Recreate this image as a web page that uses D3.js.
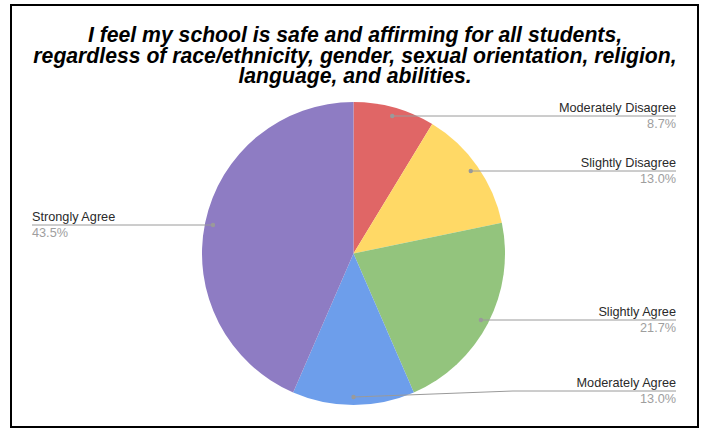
<!DOCTYPE html>
<html>
<head>
<meta charset="utf-8">
<script src="https://cdn.jsdelivr.net/npm/d3@7"></script>
<style>
  html, body { margin: 0; padding: 0; background: #fff; }
  svg { display: block; }
</style>
</head>
<body>
<svg id="chart" width="706" height="429"></svg>
<script>
// Survey responses, in slice order (clockwise from 12 o'clock)
const categories = ["Moderately Disagree", "Slightly Disagree", "Slightly Agree", "Moderately Agree", "Strongly Agree"];
const counts = [2, 3, 5, 3, 10];
const colors = ["#e06666", "#ffd966", "#93c47d", "#6d9eeb", "#8e7cc3"];
const titleLines = [
  "I feel my school is safe and affirming for all students,",
  "regardless of race/ethnicity, gender, sexual orientation, religion,",
  "language, and abilities."
];
// Where each label sits: side of the chart and the y of its leader line
const labelSide = ["right", "right", "right", "right", "left"];
const labelLineY = [116, 171, 320, 391, 225];

const svg = d3.select("#chart");

// Frame
svg.append("rect")
  .attr("x", 11).attr("y", 5)
  .attr("width", 687).attr("height", 422)
  .attr("fill", "#fff")
  .attr("stroke", "#000")
  .attr("stroke-width", 2);

// Title
const title = svg.append("text")
  .attr("text-anchor", "middle")
  .attr("font-family", "'Liberation Sans', Arial, sans-serif")
  .attr("font-size", 21.2)
  .attr("font-weight", "bold")
  .attr("font-style", "italic")
  .attr("fill", "#000");
titleLines.forEach((t, i) => {
  title.append("tspan")
    .attr("x", 355)
    .attr("y", 42 + i * 20.7)
    .text(t);
});

// Pie
const cx = 353.5, cy = 253.5, R = 151.5;
const total = d3.sum(counts);
const pie = d3.pie().sort(null).value(d => d)(counts);
const arc = d3.arc().innerRadius(0).outerRadius(R);
const g = svg.append("g").attr("transform", `translate(${cx},${cy})`);

g.selectAll("path")
  .data(pie)
  .join("path")
  .attr("d", arc)
  .attr("fill", (d, i) => colors[i]);

// Leader lines and labels
const dotR = 143.5;
const lineLeft = 32, lineRight = 676;
const fmt = d3.format(".1f");
const labelFont = "'Liberation Sans', Arial, sans-serif";

pie.forEach((d, i) => {
  const a = (d.startAngle + d.endAngle) / 2;
  const px = cx + Math.sin(a) * dotR;
  const py = cy - Math.cos(a) * dotR;
  const ly = labelLineY[i];
  let pts;
  if (labelSide[i] === "right") {
    if (Math.abs(py - ly) > 2) {
      pts = [[px, py], [513, ly], [lineRight, ly]];
    } else {
      pts = [[px, ly], [lineRight, ly]];
    }
  } else {
    pts = [[px, ly], [lineLeft, ly]];
  }
  svg.append("path")
    .attr("d", d3.line()(pts))
    .attr("fill", "none")
    .attr("stroke", "#9a9a9a")
    .attr("stroke-width", 1);
  svg.append("circle")
    .attr("cx", pts[0][0]).attr("cy", pts[0][1])
    .attr("r", 2.2)
    .attr("fill", "#9a9a9a");

  const tx = labelSide[i] === "right" ? lineRight : lineLeft;
  const anchor = labelSide[i] === "right" ? "end" : "start";
  svg.append("text")
    .attr("x", tx).attr("y", ly - 4)
    .attr("text-anchor", anchor)
    .attr("font-family", labelFont)
    .attr("font-size", 12.7)
    .attr("fill", "#2a2a2a")
    .text(categories[i]);
  svg.append("text")
    .attr("x", tx).attr("y", ly + 12)
    .attr("text-anchor", anchor)
    .attr("font-family", labelFont)
    .attr("font-size", 12.7)
    .attr("fill", "#9e9e9e")
    .text(fmt(d.data / total * 100) + "%");
});
</script>
</body>
</html>
